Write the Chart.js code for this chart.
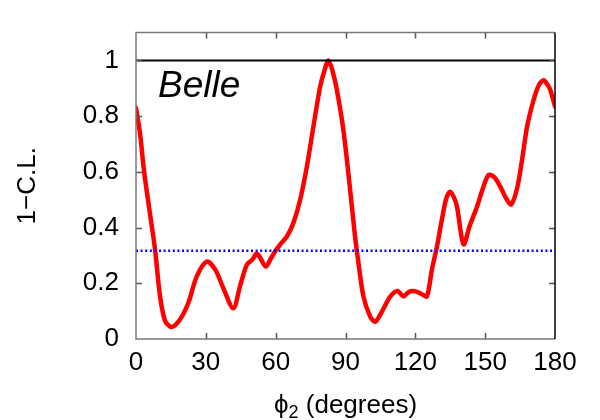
<!DOCTYPE html>
<html>
<head>
<meta charset="utf-8">
<script src="https://cdn.jsdelivr.net/npm/chart.js@4/dist/chart.umd.min.js"></script>
<style>
    body { margin: 0; background: #fff; }
    #wrap { width: 600px; height: 420px; }
</style>
</head>
<body>
<div id="wrap"><canvas id="chart" width="600" height="420"></canvas></div>
<script>
// phi2 scan (degrees) and 1-C.L.
const phi2 = [0, 1.7, 3.5, 6, 8.2, 10.3, 12.5, 15.3, 18.9, 22.5, 26.1, 30.4, 34, 37.5, 41.8, 44.7, 47.6, 50, 51.9, 53.8, 55.8, 58, 60, 62, 64.8, 67.6, 70.5, 73.4, 76.2, 79.1, 81, 82.7, 84.5, 86.3, 89.1, 92, 94.1, 95.6, 97.7, 100.6, 102.8, 104.9, 107, 109, 111, 112.5, 114.9, 117, 119, 121, 123, 125, 127.1, 129.3, 131.4, 133.3, 135, 136.5, 137.9, 140.7, 143.5, 146.5, 149, 151.5, 154, 156.5, 159, 161.2, 163.7, 165.8, 168, 170.8, 173, 175.1, 177, 178, 180];
const oneMinusCL = [0.83, 0.74, 0.6, 0.45, 0.32, 0.155, 0.065, 0.043, 0.07, 0.13, 0.225, 0.278, 0.25, 0.183, 0.11, 0.19, 0.266, 0.285, 0.307, 0.285, 0.26, 0.29, 0.318, 0.34, 0.368, 0.416, 0.499, 0.619, 0.762, 0.905, 0.965, 1.0, 0.96, 0.894, 0.75, 0.535, 0.368, 0.272, 0.153, 0.081, 0.062, 0.087, 0.12, 0.15, 0.168, 0.172, 0.153, 0.168, 0.172, 0.168, 0.16, 0.153, 0.248, 0.332, 0.428, 0.505, 0.529, 0.51, 0.475, 0.34, 0.41, 0.475, 0.54, 0.589, 0.58, 0.547, 0.505, 0.483, 0.54, 0.64, 0.762, 0.858, 0.91, 0.929, 0.91, 0.894, 0.835];

// reference levels
const levelOne = 1;
const levelSigma = 0.317;

const xTicks = [0, 30, 60, 90, 120, 150, 180];
const yTicks = [0, 0.2, 0.4, 0.6, 0.8, 1];

const FONT = 'Liberation Sans, Arial, Helvetica, sans-serif';

const curve = phi2.map((x, i) => ({ x: x, y: oneMinusCL[i] }));

/* cadre + petites graduations vers l'intérieur + textes */
const framePlugin = {
    id: 'frame',
    afterDraw(chart) {
        const ctx = chart.ctx;
        const a = chart.chartArea;
        const xs = chart.scales.x;
        const ys = chart.scales.y;
        ctx.save();

        // tick marks
        ctx.strokeStyle = '#555';
        ctx.lineWidth = 1.5;
        xTicks.slice(1, -1).forEach(v => {
            const px = Math.round(xs.getPixelForValue(v)) + 0.5;
            ctx.beginPath();
            ctx.moveTo(px, a.bottom); ctx.lineTo(px, a.bottom - 6);
            ctx.moveTo(px, a.top); ctx.lineTo(px, a.top + 6);
            ctx.stroke();
        });
        yTicks.slice(1).forEach(v => {
            const py = Math.round(ys.getPixelForValue(v)) + 0.5;
            ctx.beginPath();
            ctx.moveTo(a.left, py); ctx.lineTo(a.left + 6, py);
            ctx.moveTo(a.right, py); ctx.lineTo(a.right - 6, py);
            ctx.stroke();
        });

        // border
        ctx.strokeStyle = '#777';
        ctx.lineWidth = 1.5;
        ctx.beginPath();
        ctx.moveTo(a.right, a.top); ctx.lineTo(a.left, a.top);
        ctx.lineTo(a.left, a.bottom); ctx.lineTo(a.right, a.bottom);
        ctx.stroke();
        ctx.strokeStyle = '#000';
        ctx.beginPath();
        ctx.moveTo(a.right, a.top); ctx.lineTo(a.right, a.bottom);
        ctx.stroke();

        // Belle
        ctx.fillStyle = '#000';
        ctx.font = 'italic 37px ' + FONT;
        ctx.textAlign = 'left';
        ctx.textBaseline = 'alphabetic';
        ctx.fillText('Belle', 158, 97);

        // y title
        ctx.font = '26px ' + FONT;
        ctx.save();
        ctx.translate(35, (a.top + a.bottom) / 2);
        ctx.rotate(-Math.PI / 2);
        ctx.textAlign = 'center';
        ctx.fillText('1\u2212C.L.', 0, 0);
        ctx.restore();

        // x title: phi_2 (degrees)
        const big = '26px ' + FONT;
        const small = '18px ' + FONT;
        ctx.font = big;
        const wPhi = ctx.measureText('\u03d5').width;
        const wRest = ctx.measureText(' (degrees)').width;
        ctx.font = small;
        const wSub = ctx.measureText('2').width;
        let x0 = (a.left + a.right) / 2 - (wPhi + wSub + wRest) / 2;
        const base = 413;
        ctx.textAlign = 'left';
        ctx.font = big;
        ctx.fillText('\u03d5', x0, base);
        ctx.font = small;
        ctx.fillText('2', x0 + wPhi, base + 5);
        ctx.font = big;
        ctx.fillText(' (degrees)', x0 + wPhi + wSub, base);

        ctx.restore();
    }
};

new Chart(document.getElementById('chart'), {
    type: 'line',
    data: {
        datasets: [
            {
                data: [{ x: 0, y: levelOne }, { x: 180, y: levelOne }],
                borderColor: '#000',
                borderWidth: 2,
                pointRadius: 0
            },
            {
                data: [{ x: 0, y: levelSigma }, { x: 180, y: levelSigma }],
                borderColor: '#0000ff',
                borderWidth: 2.5,
                borderDash: [2, 2.6],
                pointRadius: 0
            },
            {
                data: curve,
                borderColor: '#ff0000',
                borderWidth: 4.5,
                pointRadius: 0,
                tension: 0.3,
                borderJoinStyle: 'round',
                borderCapStyle: 'round'
            }
        ]
    },
    options: {
        responsive: false,
        animation: false,
        layout: { padding: { top: 32, right: 45, left: 0, bottom: 0 } },
        plugins: {
            legend: { display: false },
            tooltip: { enabled: false }
        },
        scales: {
            x: {
                type: 'linear',
                min: 0,
                max: 180,
                afterBuildTicks: s => { s.ticks = xTicks.map(v => ({ value: v })); },
                afterFit: s => { s.height = 81; },
                ticks: {
                    color: '#000',
                    font: { family: FONT, size: 26 },
                    padding: 8,
                    maxRotation: 0
                },
                grid: { display: false, drawTicks: false },
                border: { display: false }
            },
            y: {
                min: 0,
                max: 1.1,
                afterBuildTicks: s => { s.ticks = yTicks.map(v => ({ value: v })); },
                afterFit: s => { s.width = 136; },
                ticks: {
                    color: '#000',
                    font: { family: FONT, size: 26 },
                    padding: 17,
                    callback: v => String(Math.round(v * 10) / 10)
                },
                grid: { display: false, drawTicks: false },
                border: { display: false }
            }
        }
    },
    plugins: [framePlugin]
});
</script>
</body>
</html>
